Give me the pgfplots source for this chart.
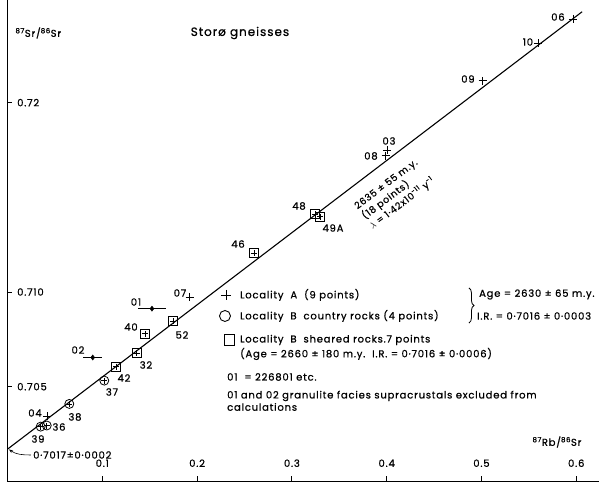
\documentclass[border=0pt]{standalone}
\usepackage{fontspec}
\setmainfont{Poppins}[LetterSpace=8, FakeBold=0.8]
\usepackage{pgfplots}
\usepackage{pgfplotstable}
\pgfplotsset{compat=1.18}
\usetikzlibrary{decorations.pathreplacing,arrows.meta}
\newcommand\lab{\fontsize{10}{11}\selectfont}
\newcommand\ttl{\fontsize{12}{14}\selectfont}

% Locality A (crosses)
\pgfplotstableread{
x y
0.5965 0.72442
0.5599 0.72314
0.5013 0.72115
0.3990 0.71720
0.4003 0.71748
0.1920 0.70974
0.0417 0.70344
}\locA
% Locality B sheared rocks (squares)
\pgfplotstableread{
x y
0.2600 0.71205
0.3244 0.71411
0.3296 0.71398
0.1749 0.70847
0.1450 0.70779
0.1363 0.70677
0.1145 0.70606
}\locBs
% Locality B country rocks (circles)
\pgfplotstableread{
x y
0.1021 0.70532
0.0652 0.70409
0.0414 0.70295
0.0350 0.70289
}\locBc
% excluded granulite facies 01, 02
\pgfplotstableread{
x y ex
0.1524 0.70912 0.0148
0.0899 0.70654 0.0103
}\excl

\begin{document}
\begin{tikzpicture}
\begin{axis}[
  scale only axis, width=591.55pt, height=481.4pt,
  xmin=0, xmax=0.624, ymin=0.7, ymax=0.72542,
  axis x line*=bottom, axis y line*=left,
  axis line style={line width=1pt, black},
  tick align=inside, major tick length=5pt,
  tick style={line width=0.8pt, black},
  xtick={0.1,0.2,0.3,0.4,0.5,0.6},
  xticklabels={0.1,0.2,0.3,0.4,0.5,0.6},
  ytick={0.705,0.710,0.72},
  yticklabels={0.705,0.710,0.72},
  xticklabel style={anchor=base, yshift=14.5pt, font=\lab},
  yticklabel style={anchor=west, inner sep=0pt, xshift=9.5pt, font=\lab},
  clip=false,
]
\addplot[line width=1.1pt, black] coordinates {(0,0.7017) (0.6062,0.72480)};
\addplot[only marks, mark=+, mark size=4pt, mark options={line width=0.8pt}] table {\locA};
\addplot[only marks, mark=square, mark size=4.5pt, mark options={line width=0.8pt}] table {\locBs};
\addplot[only marks, mark=+, mark size=3pt, mark options={line width=0.7pt}] table {\locBs};
\addplot[only marks, mark=o, mark size=4.5pt, mark options={line width=0.8pt}] table {\locBc};
\addplot[only marks, mark=+, mark size=3pt, mark options={line width=0.7pt}] table {\locBc};
\addplot[only marks, mark=diamond*, mark size=2.6pt,
  error bars/.cd, x dir=both, x explicit, error mark=none,
  error bar style={line width=0.8pt}] table[x error=ex] {\excl};
\end{axis}
\begin{scope}[x=1pt,y=-1pt,shift={(-7.5pt,481.4pt)}]
\node[font=\ttl] at (240,33) {Storø gneisses};
\node[anchor=west,font=\lab] at (12,33) {\textsuperscript{87}Sr/\textsuperscript{86}Sr};
\node[font=\lab] at (557,442) {\textsuperscript{87}Rb/\textsuperscript{86}Sr};
\node[anchor=west,font=\lab,inner sep=0pt] at (33,455) {0·7017±0·0002};
\draw[line width=0.6pt,-{Stealth[length=4pt,width=3pt]}] (31,455) to[out=180,in=-35] (9,449.5);
% point labels
\begin{scope}[every node/.style={font=\lab}]
\node at (558,17) {06};
\node at (528,42) {10};
\node at (468,79) {09};
\node at (389,141) {03};
\node at (371,156) {08};
\node at (299,206) {48};
\node at (333,228) {49A};
\node at (238,244) {46};
\node at (180,293) {07};
\node at (136,302) {01};
\node at (131,327) {40};
\node at (182,335) {52};
\node at (78,350) {02};
\node at (146,365) {32};
\node at (124,378) {42};
\node at (112,392) {37};
\node at (75,417) {38};
\node at (35,413) {04};
\node at (59,427) {36};
\node at (38,439) {39};
\end{scope}
\node[rotate=37,align=left,font=\fontsize{9.5}{12.5}\selectfont,inner sep=0pt] at (395,194)
  {2635 ± 55 m.y.\\(18 points)\\$\lambda$ = 1·42x10\textsuperscript{-11} y\textsuperscript{-1}};
% legend
\draw[line width=0.9pt] (221,295)--(231,295) (226,290)--(226,300);
\draw[line width=0.9pt] (225,316) circle (5.5pt);
\draw[line width=0.9pt] (224.5,334.5) rectangle (234.5,345.5);
\begin{scope}[every node/.style={font=\lab,anchor=west,inner sep=0pt}]
\node at (240,295) {Locality~~A~~(9 points)};
\node at (240,316) {Locality~~B~~country rocks (4 points)};
\node at (240,340) {Locality~~B~~sheared rocks.7 points};
\node at (240,354) {(Age = 2660 ± 180 m.y.~~I.R. = 0·7016 ± 0·0006)};
\node at (227,377) {01~~= 226801 etc.};
\node at (227,396) {01 and 02 granulite facies supracrustals excluded from};
\node at (227,407) {calculations};
\node at (479,294.5) {Age = 2630 ± 65 m.y.};
\node at (477,316) {I.R. = 0·7016 ± 0·0003};
\end{scope}
\draw[line width=0.8pt, decorate, decoration={brace, amplitude=5pt}] (469,288) -- (469,323);
\end{scope}
\pgfresetboundingbox
\path[use as bounding box] (-7.5pt,-1.6pt) rectangle (591.55pt,481.4pt);
\end{tikzpicture}
\end{document}
